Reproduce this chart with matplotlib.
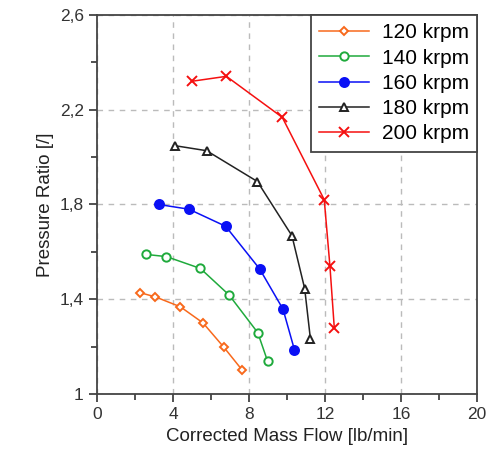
import matplotlib
matplotlib.use('Agg')
import matplotlib.pyplot as plt
from matplotlib.ticker import FixedLocator

plt.rcParams['font.family'] = ['Liberation Sans', 'DejaVu Sans']

labels = ['120 krpm', '140 krpm', '160 krpm', '180 krpm', '200 krpm']
flow = [
    [2.25, 3.07, 4.39, 5.58, 6.68, 7.65],
    [2.60, 3.65, 5.44, 6.95, 8.46, 8.98],
    [3.25, 4.84, 6.77, 8.56, 9.79, 10.39],
    [4.12, 5.77, 8.44, 10.26, 10.93, 11.23],
    [4.98, 6.81, 9.75, 11.96, 12.26, 12.49],
]
ratio = [
    [1.428, 1.41, 1.368, 1.30, 1.197, 1.10],
    [1.589, 1.58, 1.53, 1.418, 1.259, 1.138],
    [1.80, 1.78, 1.708, 1.528, 1.358, 1.187],
    [2.048, 2.027, 1.897, 1.668, 1.445, 1.234],
    [2.32, 2.341, 2.168, 1.82, 1.539, 1.277],
]
xticks = [0, 4, 8, 12, 16, 20]
yticks = [1, 1.4, 1.8, 2.2, 2.6]
ytick_labels = ['1', '1,4', '1,8', '2,2', '2,6']

colors = ['#F8691C', '#1FAA3C', '#0A10F5', '#222222', '#F51010']
markers = ['D', 'o', 'o', '^', 'x']
msizes = [4.5, 6, 6.5, 5.5, 7]
filled = [False, False, True, False, True]

fig = plt.figure(figsize=(4.86, 4.74), dpi=100)
ax = fig.add_axes([0.1996, 0.1688, 0.7819, 0.7996])

for i in range(len(labels)):
    mfc = colors[i] if filled[i] else 'white'
    ax.plot(flow[i], ratio[i], color=colors[i], lw=1.1, marker=markers[i],
            ms=msizes[i], mfc=mfc, mec=colors[i], mew=1.4, label=labels[i])

ax.set_xlim(0, 20)
ax.set_ylim(1, 2.6)
ax.set_xticks(xticks)
ax.set_yticks(yticks, ytick_labels)
ax.xaxis.set_minor_locator(FixedLocator([2, 6, 10, 14, 18]))
ax.yaxis.set_minor_locator(FixedLocator([1.2, 1.6, 2.0, 2.4]))
ax.grid(True, which='major', color='#bbbbbb', ls=(0, (4, 4)), lw=1)
ax.tick_params(which='both', direction='out', colors='#333333', labelsize=12.5)
ax.tick_params(which='major', length=6, width=1.2)
ax.tick_params(which='minor', length=4, width=1.2)
for s in ax.spines.values():
    s.set_color('#444444')
    s.set_linewidth(1.3)

ax.set_xlabel('Corrected Mass Flow [lb/min]', fontsize=13.5, color='#222222')
ax.set_ylabel('Pressure Ratio [/]', fontsize=13.5, color='#222222')

leg = ax.legend(loc='upper right', fontsize=15, fancybox=False, framealpha=1,
                edgecolor='#444444', borderaxespad=0, handlelength=2.4,
                labelspacing=0.3, borderpad=0.4, handletextpad=0.6)
leg.get_frame().set_linewidth(1.3)

fig.savefig('out.png', dpi=100)
